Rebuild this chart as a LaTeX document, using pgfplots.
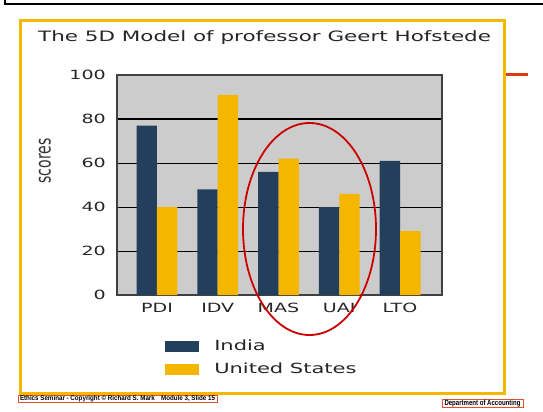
\documentclass[border=0pt]{standalone}
\usepackage{fontspec}
\setmainfont{DejaVu Sans}
\newfontfamily\wide[FakeStretch=1.5]{DejaVu Sans}
\newfontfamily\foot{Liberation Sans}
\usepackage{pgfplots}
\pgfplotsset{compat=1.18}
\definecolor{india}{RGB}{36,63,92}
\definecolor{usa}{RGB}{245,182,0}
\definecolor{frameor}{RGB}{245,184,0}
\definecolor{bgray}{RGB}{204,204,204}
\definecolor{ellred}{RGB}{204,0,0}
\definecolor{boxred}{RGB}{225,80,50}
\definecolor{linered}{RGB}{216,60,20}
\begin{document}
\begin{tikzpicture}[x=1bp,y=1bp]
\useasboundingbox (0,0) rectangle (543,411);
\draw[black,line width=2bp] (5,411) -- (5,407) -- (543,407);
\draw[frameor,line width=3bp] (20.5,18) rectangle (504,390);
\draw[linered,line width=3bp] (506,337) -- (528,337);
\node[anchor=base west,inner sep=0pt,font=\wide\fontsize{14.3bp}{16bp}\selectfont,text=black!85] at (38,370) {The 5D Model of professor Geert Hofstede};
\begin{axis}[
  at={(117bp,116bp)}, anchor=south west, scale only axis,
  width=325bp, height=220bp,
  ybar=0pt, bar width=0.337,
  xmin=-0.658, xmax=4.691, ymin=0, ymax=100,
  xtick={0,1,2,3,4}, xticklabels={PDI,IDV,MAS,UAI,LTO},
  ytick={0,20,40,60,80,100},
  major tick length=0pt,
  ymajorgrids, grid style={black, line width=1bp},
  axis background/.style={fill=bgray},
  axis line style={draw=black!75, line width=1.5bp},
  tick label style={font=\wide\fontsize{12.7bp}{14bp}\selectfont, text=black!85},
  /pgf/number format/assume math mode=true,
  yticklabel style={inner sep=0pt, xshift=-11bp},
  xticklabel style={inner sep=0pt, yshift=-8bp},
  ylabel={\scalebox{1}[1.5]{scores}},
  ylabel style={at={(rel axis cs:-0.2215,0.609)}, anchor=center, font=\fontsize{14bp}{16bp}\selectfont, text=black!80},
  legend style={at={(rel axis cs:0.148,-0.204)}, anchor=north west, draw=none, fill=none, inner sep=0pt, row sep=11bp, column sep=15bp, font=\wide\fontsize{14bp}{16bp}\selectfont, text=black!85, cells={anchor=west}, nodes={inner sep=0pt}},
  legend image code/.code={\fill[#1] (0bp,-5.5bp) rectangle (34bp,5.5bp);},
]
\addplot[fill=india, draw=none] coordinates {(0,77) (1,48) (2,56) (3,40) (4,61)};
\addplot[fill=usa, draw=none] coordinates {(0,40) (1,91) (2,62) (3,46) (4,29)};
\legend{India, United States}
\end{axis}
\draw[ellred, line width=1.8bp] (309.5,182) ellipse [x radius=66.5bp, y radius=106bp];
\draw[boxred, line width=0.8bp] (18,9) rectangle (217,16);
\node[inner sep=0pt] at (117.5,12.5) {\resizebox{195bp}{5bp}{\foot\bfseries Ethics Seminar - Copyright \textcopyright\ Richard S. Mark\quad Module 3,\ Slide 15}};
\draw[boxred, line width=0.8bp] (442,3.3) rectangle (523,12);
\node[inner sep=0pt] at (482.5,7.65) {\resizebox{76bp}{5.5bp}{\foot\bfseries Department of Accounting}};
\end{tikzpicture}
\end{document}
